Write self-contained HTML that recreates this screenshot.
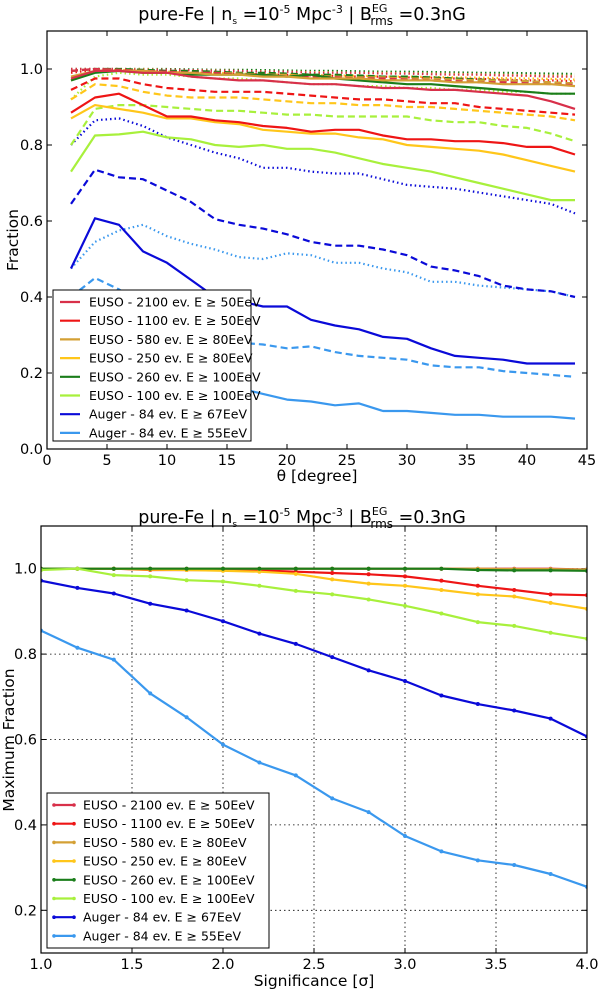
<!DOCTYPE html>
<html><head><meta charset="utf-8"><style>
html,body{margin:0;padding:0;background:#fff;}
svg{display:block;font-family:"DejaVu Sans","Liberation Sans",sans-serif;}
</style></head><body>
<svg id="c" width="600" height="990" viewBox="0 0 600 990" xmlns="http://www.w3.org/2000/svg"></svg>
<script>
const NS="http://www.w3.org/2000/svg";
const labels=["EUSO - 2100 ev. E \u2265 50EeV","EUSO - 1100 ev. E \u2265 50EeV","EUSO - 580 ev. E \u2265 80EeV","EUSO - 250 ev. E \u2265 80EeV","EUSO - 260 ev. E \u2265 100EeV","EUSO - 100 ev. E \u2265 100EeV","Auger - 84 ev. E \u2265 67EeV","Auger - 84 ev. E \u2265 55EeV"];
const colors=["#d8304a","#ee1515","#d4a035","#ffc61a","#1a7d1a","#a8f03c","#0a0ad8","#3a98ee"];
const thetas=[2,4,6,8,10,12,14,16,18,20,22,24,26,28,30,32,34,36,38,40,42,44];
const topSolid=[
[0.975,0.995,0.995,0.99,0.99,0.98,0.975,0.97,0.97,0.965,0.96,0.96,0.955,0.95,0.95,0.945,0.945,0.94,0.935,0.93,0.915,0.895],
[0.885,0.925,0.935,0.905,0.875,0.875,0.865,0.86,0.85,0.845,0.835,0.84,0.84,0.825,0.815,0.815,0.81,0.81,0.805,0.795,0.795,0.775],
[0.98,0.995,0.995,0.995,0.99,0.99,0.985,0.985,0.98,0.98,0.975,0.975,0.975,0.97,0.97,0.97,0.965,0.965,0.96,0.96,0.96,0.955],
[0.87,0.905,0.895,0.885,0.87,0.87,0.86,0.855,0.84,0.835,0.83,0.83,0.82,0.815,0.80,0.795,0.79,0.785,0.775,0.76,0.745,0.73],
[0.97,0.99,0.995,0.99,0.99,0.985,0.985,0.985,0.985,0.98,0.985,0.975,0.97,0.965,0.96,0.96,0.955,0.95,0.945,0.94,0.935,0.935],
[0.73,0.825,0.828,0.835,0.82,0.815,0.80,0.795,0.80,0.79,0.79,0.78,0.765,0.75,0.74,0.73,0.715,0.70,0.685,0.67,0.655,0.655],
[0.475,0.607,0.59,0.52,0.49,0.445,0.40,0.39,0.375,0.375,0.34,0.325,0.315,0.295,0.29,0.265,0.245,0.24,0.235,0.225,0.225,0.225],
[0.30,0.33,0.30,0.27,0.24,0.21,0.18,0.16,0.145,0.13,0.125,0.115,0.12,0.10,0.10,0.095,0.09,0.09,0.085,0.085,0.085,0.08]];
const topDashed=[
[0.995,1.0,0.998,0.995,0.993,0.99,0.99,0.985,0.985,0.98,0.98,0.978,0.975,0.975,0.972,0.97,0.968,0.965,0.965,0.962,0.96,0.958],
[0.945,0.975,0.975,0.96,0.95,0.945,0.94,0.94,0.94,0.935,0.93,0.925,0.92,0.92,0.915,0.91,0.91,0.90,0.895,0.89,0.885,0.88],
[0.995,1.0,0.998,0.995,0.993,0.99,0.99,0.988,0.985,0.985,0.982,0.98,0.978,0.978,0.975,0.975,0.972,0.97,0.97,0.968,0.965,0.962],
[0.92,0.96,0.955,0.94,0.93,0.925,0.925,0.925,0.92,0.915,0.91,0.91,0.905,0.905,0.90,0.90,0.895,0.89,0.885,0.88,0.875,0.865],
[0.995,1.0,1.0,0.998,0.995,0.995,0.993,0.99,0.99,0.988,0.985,0.985,0.983,0.98,0.98,0.978,0.975,0.972,0.97,0.968,0.965,0.962],
[0.80,0.895,0.905,0.905,0.90,0.895,0.89,0.89,0.885,0.88,0.88,0.875,0.875,0.875,0.875,0.865,0.86,0.86,0.85,0.845,0.83,0.81],
[0.645,0.735,0.715,0.71,0.68,0.65,0.605,0.59,0.58,0.565,0.545,0.535,0.535,0.525,0.51,0.48,0.47,0.455,0.43,0.42,0.415,0.40],
[0.40,0.45,0.42,0.38,0.35,0.32,0.30,0.28,0.275,0.265,0.27,0.255,0.245,0.24,0.235,0.22,0.215,0.215,0.205,0.20,0.195,0.19]];
const topDotted=[
[1.0,1.0,1.0,0.998,0.998,0.997,0.995,0.995,0.993,0.993,0.99,0.99,0.99,0.988,0.988,0.986,0.985,0.985,0.983,0.982,0.98,0.98],
[0.99,0.998,0.998,0.995,0.993,0.99,0.99,0.988,0.986,0.985,0.983,0.982,0.98,0.98,0.978,0.977,0.975,0.974,0.972,0.97,0.97,0.968],
[1.0,1.0,1.0,1.0,0.998,0.997,0.996,0.995,0.994,0.993,0.992,0.991,0.99,0.99,0.989,0.988,0.987,0.986,0.985,0.984,0.983,0.982],
[0.97,0.995,0.998,0.995,0.993,0.99,0.99,0.988,0.986,0.985,0.984,0.983,0.982,0.98,0.98,0.979,0.978,0.977,0.976,0.975,0.974,0.972],
[1.0,1.0,1.0,1.0,1.0,0.999,0.998,0.998,0.997,0.996,0.995,0.995,0.994,0.993,0.993,0.992,0.991,0.99,0.99,0.989,0.988,0.987],
[0.92,0.98,0.99,0.985,0.985,0.98,0.975,0.975,0.97,0.965,0.96,0.96,0.955,0.955,0.95,0.95,0.945,0.945,0.94,0.94,0.935,0.935],
[0.80,0.865,0.87,0.85,0.82,0.80,0.78,0.765,0.74,0.74,0.73,0.725,0.725,0.71,0.695,0.69,0.685,0.675,0.665,0.655,0.645,0.62],
[0.475,0.545,0.575,0.59,0.56,0.54,0.525,0.505,0.50,0.515,0.51,0.49,0.49,0.475,0.465,0.44,0.44,0.43,0.425,0.42,0.415,0.40]];
const sigmas=[1.0,1.2,1.4,1.6,1.8,2.0,2.2,2.4,2.6,2.8,3.0,3.2,3.4,3.6,3.8,4.0];
const botVals=[
[1,1,1,1,1,1,1,1,1,1,1,1,1,1,1,0.998],
[1,1,1,0.997,0.997,0.997,0.996,0.993,0.99,0.987,0.982,0.972,0.96,0.95,0.94,0.938],
[1,1,1,1,1,1,1,1,1,1,1,1,1,0.999,0.999,0.998],
[1,1,1,0.998,0.997,0.995,0.993,0.988,0.975,0.965,0.96,0.95,0.94,0.935,0.92,0.906],
[1,1,1,1,1,1,1,1,1,1,1,1,0.997,0.996,0.996,0.995],
[0.997,1.0,0.985,0.982,0.973,0.970,0.96,0.948,0.94,0.928,0.913,0.895,0.875,0.866,0.85,0.836],
[0.972,0.955,0.942,0.918,0.902,0.877,0.848,0.824,0.793,0.762,0.737,0.703,0.683,0.668,0.649,0.607],
[0.855,0.815,0.787,0.708,0.652,0.588,0.546,0.516,0.462,0.43,0.374,0.338,0.317,0.306,0.285,0.255]];
const topXTicks=[0,5,10,15,20,25,30,35,40,45];
const topYTicks=[0.0,0.2,0.4,0.6,0.8,1.0];
const botXTicks=[1.0,1.5,2.0,2.5,3.0,3.5,4.0];
const botYTicks=[0.2,0.4,0.6,0.8,1.0];

const svg=document.getElementById('c');
function el(t,a,p){const e=document.createElementNS(NS,t);for(const k in a)e.setAttribute(k,a[k]);(p||svg).appendChild(e);return e;}
function txt(s,a,p){const e=el('text',a,p);e.textContent=s;return e;}

function title(y,nm){
  const t=el('text',{x:302,y:y,'text-anchor':'middle','font-size':17.5,fill:'#000'});
  
  
  let tp;
  tp=el('tspan',{},t);tp.textContent="pure-Fe | n";
  tp=el('tspan',{dy:4,'font-size':9},t);tp.textContent="s";
  tp=el('tspan',{dy:-4},t);tp.textContent=" =10";
  tp=el('tspan',{dy:-7,'font-size':11},t);tp.textContent="-5";
  tp=el('tspan',{dy:7},t);tp.textContent=" Mpc";
  tp=el('tspan',{dy:-7,'font-size':11},t);tp.textContent="-3";
  tp=el('tspan',{dy:7},t);tp.textContent="  | B";
  tp=el('tspan',{dy:-8,'font-size':11},t);tp.textContent="EG";
  tp=el('tspan',{dx:-17,dy:13,'font-size':12},t);tp.textContent="rms";
  tp=el('tspan',{dy:-5},t);tp.textContent=" =0.3nG";
}

const T={l:47,r:587,t:31,b:449,x0:0,x1:45,y0:0,y1:1.1};
const B={l:41,r:587,t:526,b:953,x0:1,x1:4,y0:0.1,y1:1.1};
function sx(A,v){return A.l+(v-A.x0)/(A.x1-A.x0)*(A.r-A.l);}
function sy(A,v){return A.b-(v-A.y0)/(A.y1-A.y0)*(A.b-A.t);}

function axes(A,xt,yt,grid,xfmt,yfmt,name){
  const g=el('g',{});
  
  
  if(grid){
    xt.forEach(v=>{if(v>A.x0&&v<A.x1)el('line',{x1:sx(A,v),x2:sx(A,v),y1:A.t,y2:A.b,stroke:'#000','stroke-width':0.8,'stroke-dasharray':'1.5,3'},g);});
    yt.forEach(v=>el('line',{x1:A.l,x2:A.r,y1:sy(A,v),y2:sy(A,v),stroke:'#000','stroke-width':0.8,'stroke-dasharray':'1.5,3'},g));
  }
  xt.forEach(v=>{const x=sx(A,v);
    el('line',{x1:x,x2:x,y1:A.b,y2:A.b-5,stroke:'#000'},g);el('line',{x1:x,x2:x,y1:A.t,y2:A.t+5,stroke:'#000'},g);
    const t=txt(xfmt(v),{x:x,y:A.b+16,'text-anchor':'middle','font-size':14.5},g);
    
    });
  yt.forEach(v=>{const y=sy(A,v);
    el('line',{x1:A.l,x2:A.l+5,y1:y,y2:y,stroke:'#000'},g);el('line',{x1:A.r,x2:A.r-5,y1:y,y2:y,stroke:'#000'},g);
    const t=txt(yfmt(v),{x:A.l-4,y:y+5,'text-anchor':'end','font-size':14.5},g);
    
    });
}
function frame(A){el('rect',{x:A.l,y:A.t,width:A.r-A.l,height:A.b-A.t,fill:'none',stroke:'#000','stroke-width':1.2});}
function path(A,xs,ys){return xs.map((x,i)=>(i?'L':'M')+sx(A,x).toFixed(1)+','+sy(A,ys[i]).toFixed(1)).join('');}

title(20,'top-title');
const clipT=el('clipPath',{id:'ct'});el('rect',{x:T.l,y:T.t,width:T.r-T.l,height:T.b-T.t},clipT);
axes(T,topXTicks,topYTicks,false,v=>String(v),v=>v.toFixed(1),'top');
const gT=el('g',{'clip-path':'url(#ct)'});
const styles=[['',topSolid],['7,4',topDashed],['1.5,3',topDotted]];
for(let s=2;s>=0;s--){
  for(let i=7;i>=0;i--){
    const p=el('path',{d:path(T,thetas,styles[s][1][i]),fill:'none',stroke:colors[i],'stroke-width':2.2,'stroke-dasharray':styles[s][0]||'none','stroke-linejoin':'round'},gT);
    
    
  }
}
frame(T);
const yl1=txt('Fraction',{x:0,y:0,'text-anchor':'middle','font-size':15.5,transform:'translate(18,240) rotate(-90)'});


const xl1=txt('\u03b8 [degree]',{x:317,y:481,'text-anchor':'middle','font-size':15.5});



function legend(x,y,w,h,markers,nm){
  const g=el('g',{});
  
  
  el('rect',{x:x,y:y,width:w,height:h,fill:'#fff',stroke:'#000','stroke-width':1},g);
  labels.forEach((lb,i)=>{const yy=y+12+i*18.7;
    const e=el('g',{},g);
    
    
    el('line',{x1:x+7,x2:x+27,y1:yy,y2:yy,stroke:colors[i],'stroke-width':2.2},e);
    if(markers){el('circle',{cx:x+7,cy:yy,r:1.8,fill:colors[i]},e);el('circle',{cx:x+27,cy:yy,r:1.8,fill:colors[i]},e);}
    txt(lb,{x:x+36,y:yy+4.5,'font-size':12.5},e);});
}
legend(53,290,198,151,false,'top-legend');

title(523,'bottom-title');
axes(B,botXTicks,botYTicks,true,v=>v.toFixed(1),v=>v.toFixed(1),'bottom');
const clipB=el('clipPath',{id:'cb'});el('rect',{x:B.l,y:B.t,width:B.r-B.l,height:B.b-B.t},clipB);
const gB=el('g',{'clip-path':'url(#cb)'});
for(let i=0;i<8;i++){
  const g=el('g',{},gB);
  
  
  el('path',{d:path(B,sigmas,botVals[i]),fill:'none',stroke:colors[i],'stroke-width':2.2,'stroke-linejoin':'round'},g);
  sigmas.forEach((s,j)=>{const c=el('circle',{cx:sx(B,s),cy:sy(B,botVals[i][j]),r:2,fill:colors[i]},g);
    
    });
}
frame(B);
const yl2=txt('Maximum Fraction',{x:0,y:0,'text-anchor':'middle','font-size':15.5,transform:'translate(14,740) rotate(-90)'});


const xl2=txt('Significance [\u03c3]',{x:314,y:986,'text-anchor':'middle','font-size':15.5});


legend(47,793,222,155,true,'bottom-legend');
</script>
</body></html>
